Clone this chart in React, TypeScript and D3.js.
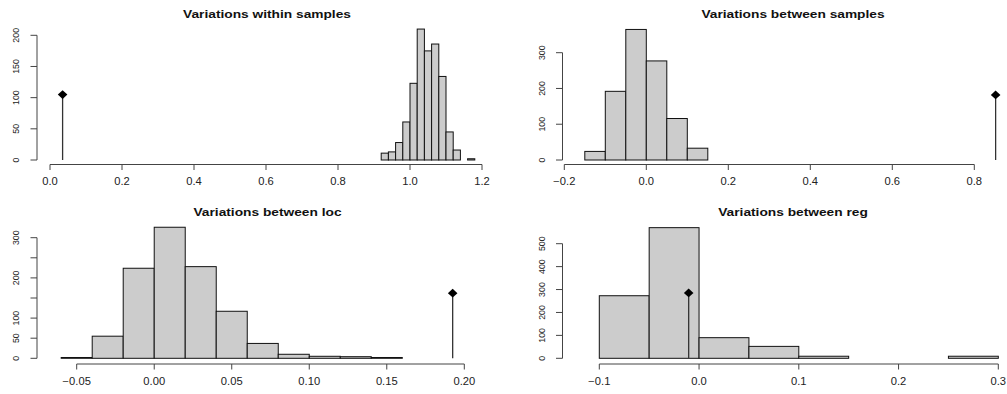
import React from "react";
import * as d3 from "d3";

// ---------- data ----------
const withinStart = 0.92;
const withinWidth = 0.02;
const withinCounts = [11, 13, 28, 61, 123, 210, 175, 186, 134, 45, 16, 0, 2];
const withinObs = 0.035;
const withinObsHeight = 105;
const withinXTicks = [0, 0.2, 0.4, 0.6, 0.8, 1.0, 1.2];
const withinYTicks = [0, 50, 100, 150, 200];

const samplesStart = -0.15;
const samplesWidth = 0.05;
const samplesCounts = [24, 192, 365, 277, 116, 33];
const samplesObs = 0.852;
const samplesObsHeight = 182;
const samplesXTicks = [-0.2, 0, 0.2, 0.4, 0.6, 0.8];
const samplesYTicks = [0, 100, 200, 300];

const locStart = -0.06;
const locWidth = 0.02;
const locCounts = [2, 55, 224, 326, 228, 117, 37, 10, 5, 4, 2];
const locObs = 0.1925;
const locObsHeight = 162;
const locXTicks = [-0.05, 0, 0.05, 0.1, 0.15, 0.2];
const locYTicks = [0, 50, 100, 150, 200, 250, 300];
const locYLabels = [0, 50, 100, 200, 300];

const regStart = -0.1;
const regWidth = 0.05;
const regCounts = [273, 570, 90, 52, 9, 0, 0, 9];
const regObs = -0.0104;
const regObsHeight = 285;
const regXTicks = [-0.1, 0, 0.1, 0.2, 0.3];
const regYTicks = [0, 100, 200, 300, 400, 500];

const titles = [
  "Variations within samples",
  "Variations between samples",
  "Variations between loc",
  "Variations between reg",
];

// ---------- layout ----------
type Panel = {
  title: string;
  start: number;
  width: number;
  counts: number[];
  obs: number;
  obsH: number;
  xTicks: number[];
  xDigits: number;
  yTicks: number[];
  yLabels: number[];
  xDom: [number, number];
  xRange: [number, number];
  yDom: [number, number];
  yRange: [number, number];
  axisY: number;
  axisX: number;
  titleX: number;
  titleY: number;
};

const panels: Panel[] = [
  {
    title: titles[0], start: withinStart, width: withinWidth, counts: withinCounts,
    obs: withinObs, obsH: withinObsHeight, xTicks: withinXTicks, xDigits: 1,
    yTicks: withinYTicks, yLabels: withinYTicks,
    xDom: [0, 1.2], xRange: [50, 482], yDom: [0, 200], yRange: [160, 35.3],
    axisY: 164.5, axisX: 37, titleX: 267, titleY: 18,
  },
  {
    title: titles[1], start: samplesStart, width: samplesWidth, counts: samplesCounts,
    obs: samplesObs, obsH: samplesObsHeight, xTicks: samplesXTicks, xDigits: 1,
    yTicks: samplesYTicks, yLabels: samplesYTicks,
    xDom: [-0.2, 0.8], xRange: [564.3, 974.3], yDom: [0, 300], yRange: [160, 52.7],
    axisY: 164.5, axisX: 562.5, titleX: 793, titleY: 18,
  },
  {
    title: titles[2], start: locStart, width: locWidth, counts: locCounts,
    obs: locObs, obsH: locObsHeight, xTicks: locXTicks, xDigits: 2,
    yTicks: locYTicks, yLabels: locYLabels,
    xDom: [-0.05, 0.2], xRange: [76.7, 464.3], yDom: [0, 300], yRange: [358.3, 237.7],
    axisY: 364, axisX: 37, titleX: 267.5, titleY: 216,
  },
  {
    title: titles[3], start: regStart, width: regWidth, counts: regCounts,
    obs: regObs, obsH: regObsHeight, xTicks: regXTicks, xDigits: 1,
    yTicks: regYTicks, yLabels: regYTicks,
    xDom: [-0.1, 0.3], xRange: [599.3, 998.3], yDom: [0, 500], yRange: [358.3, 243.7],
    axisY: 364, axisX: 562.5, titleX: 793, titleY: 216,
  },
];

const AXIS = "#444";
const TEXT = "#222";
const FONT = "'Liberation Sans', Arial, sans-serif";

function HistPanel({ p }: { p: Panel }) {
  const x = d3.scaleLinear().domain(p.xDom).range(p.xRange);
  const y = d3.scaleLinear().domain(p.yDom).range(p.yRange);
  const bins = p.counts.map((c, i) => ({
    x0: p.start + i * p.width,
    x1: p.start + (i + 1) * p.width,
    c,
  }));
  const fmt = d3.format(`.${p.xDigits}f`);
  const diamond = d3.symbol().type(d3.symbolSquare).size(38)() as string;
  const xFirst = p.xTicks[0];
  const xLast = p.xTicks[p.xTicks.length - 1];
  const yFirst = p.yTicks[0];
  const yLast = p.yTicks[p.yTicks.length - 1];
  return (
    <g>
      <text
        transform={`translate(${p.titleX},${p.titleY}) scale(1.25,1)`}
        textAnchor="middle"
        fontFamily={FONT}
        fontWeight="bold"
        fontSize={11}
        fill="#111"
      >
        {p.title}
      </text>
      {bins.map((b, i) => (
        <rect
          key={i}
          x={x(b.x0)}
          y={y(b.c)}
          width={x(b.x1) - x(b.x0)}
          height={y(0) - y(b.c)}
          fill="#cccccc"
          stroke="#111"
          strokeWidth={1}
        />
      ))}
      <line x1={x(p.obs)} x2={x(p.obs)} y1={y(0)} y2={y(p.obsH)} stroke="#333" strokeWidth={1.3} />
      <path
        d={diamond}
        transform={`translate(${x(p.obs)},${y(p.obsH)}) scale(1.1,1) rotate(45)`}
        fill="#000"
      />
      {/* x axis */}
      <line x1={x(xFirst)} x2={x(xLast)} y1={p.axisY} y2={p.axisY} stroke={AXIS} strokeWidth={1} />
      {p.xTicks.map((t, i) => (
        <g key={i}>
          <line x1={x(t)} x2={x(t)} y1={p.axisY} y2={p.axisY + 5.5} stroke={AXIS} />
          <text
            transform={`translate(${x(t)},${p.axisY + 20.5}) scale(1.12,1)`}
            textAnchor="middle"
            fontFamily={FONT}
            fontSize={10}
            fill={TEXT}
          >
            {fmt(t)}
          </text>
        </g>
      ))}
      {/* y axis */}
      <line x1={p.axisX} x2={p.axisX} y1={y(yFirst)} y2={y(yLast)} stroke={AXIS} strokeWidth={1} />
      {p.yTicks.map((t, i) => (
        <g key={i}>
          <line x1={p.axisX - 6.5} x2={p.axisX} y1={y(t)} y2={y(t)} stroke={AXIS} />
          {p.yLabels.includes(t) && (
            <text
              transform={`translate(${p.axisX - 18},${y(t)}) scale(1.1,1) rotate(-90)`}
              textAnchor="middle"
              fontFamily={FONT}
              fontSize={8.8}
              fill={TEXT}
            >
              {t}
            </text>
          )}
        </g>
      ))}
    </g>
  );
}

export default function App() {
  return (
    <svg
      width={1007}
      height={394}
      style={{ position: "absolute", left: 0, top: 0, background: "#fff" }}
    >
      <rect x={0} y={0} width={1007} height={394} fill="#fff" />
      {panels.map((p, i) => (
        <HistPanel key={i} p={p} />
      ))}
    </svg>
  );
}
